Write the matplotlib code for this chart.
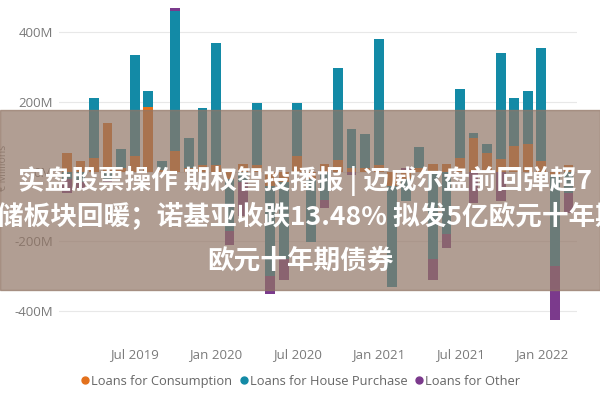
import matplotlib.pyplot as plt
import numpy as np
from matplotlib.lines import Line2D
from matplotlib.patches import Rectangle


# Meses del eje (Feb 2019 .. Mar 2022), uno por barra.
meses = [
    "Feb 2019", "Mar 2019", "Apr 2019", "May 2019", "Jun 2019", "Jul 2019",
    "Aug 2019", "Sep 2019", "Oct 2019", "Nov 2019", "Dec 2019", "Jan 2020",
    "Feb 2020", "Mar 2020", "Apr 2020", "May 2020", "Jun 2020", "Jul 2020",
    "Aug 2020", "Sep 2020", "Oct 2020", "Nov 2020", "Dec 2020", "Jan 2021",
    "Feb 2021", "Mar 2021", "Apr 2021", "May 2021", "Jun 2021", "Jul 2021",
    "Aug 2021", "Sep 2021", "Oct 2021", "Nov 2021", "Dec 2021", "Jan 2022",
    "Feb 2022", "Mar 2022",
]

# Flujos netos en millones (leidos a ojo del grafico).
consumo = [
    54, 31, 40, 140, 10, 46, 186, 5, 60, 10, 20, 20,
    -20, 23, 20, -40, -30, 46, -20, 23, 34, 10, 10, 20,
    -40, -20, 10, 23, 23, 40, 97, 54, 37, 74, 80, 30,
    -10, 20,
]
vivienda = [
    -20, -30, 171, -20, 56, 288, 45, 24, 399, 87, 163, 349,
    -150, -30, 177, -260, -220, 151, -183, -80, 263, 113, 99, 360,
    -290, -63, 61, -250, -180, 197, 14, 26, 303, 137, 151, 324,
    -260, -60,
]
otros = [
    -40, -20, 0, -10, 0, 0, 0, 0, 10, 0, 0, 0,
    -40, -97, 0, -50, -60, 0, 0, -23, 0, -11, 0, 0,
    0, 11, 0, -61, -40, 0, -91, 0, -83, 0, 0, 0,
    -155, -60,
]

etiquetas_x = ["Jul 2019", "Jan 2020", "Jul 2020", "Jan 2021", "Jul 2021", "Jan 2022"]
valores_y = [-400, -200, 0, 200, 400]

series = [
    ("Loans for Consumption", consumo, "#E3711C"),
    ("Loans for House Purchase", vivienda, "#138AA6"),
    ("Loans for Other", otros, "#7B3A8C"),
]

titular = [
    "实盘股票操作 期权智投播报 | 迈威尔盘前回弹超7",
    "储板块回暖；诺基亚收跌13.48% 拟发5亿欧元十年期",
    "欧元十年期债券",
]

plt.rcParams["font.family"] = ["Open Sans", "DejaVu Sans"]

figura = plt.figure(figsize=(6, 4), dpi=100)
eje = figura.add_axes([0.098, 0.161, 0.863, 0.8375])

x = np.arange(len(meses))
base_pos = np.zeros(len(meses))
base_neg = np.zeros(len(meses))
for nombre, valores, color in series:
    v = np.array(valores, dtype=float)
    pos = np.where(v > 0, v, 0)
    neg = np.where(v < 0, v, 0)
    eje.bar(x, pos, 0.72, bottom=base_pos, color=color, zorder=2)
    eje.bar(x, neg, 0.72, bottom=base_neg, color=color, zorder=2)
    base_pos += pos
    base_neg += neg

eje.set_xlim(-0.6, len(meses) - 0.4)
eje.set_ylim(-470, 490)
eje.set_yticks(valores_y)
eje.set_yticklabels([f"{v}M" for v in valores_y])
eje.set_xticks([meses.index(e) for e in etiquetas_x])
eje.set_xticklabels(etiquetas_x)
eje.tick_params(length=0, colors="#7a7a7a", labelsize=9.5)
eje.tick_params(axis="x", pad=9)
eje.tick_params(axis="y", pad=4)
eje.grid(axis="y", color="#e8e8e8", lw=0.8, zorder=0)
for lado in eje.spines.values():
    lado.set_visible(False)
eje.set_ylabel("€ Millions", color="#888888", fontsize=7.5, labelpad=4)

# Leyenda inferior con puntos.
marcas = [Line2D([], [], marker="o", ls="", color=c, markersize=5) for _, _, c in series]
figura.legend(marcas, [n for n, _, _ in series], loc="center", bbox_to_anchor=(0.5, 0.047),
              ncol=3, frameon=False, fontsize=9.3, labelcolor="#666666",
              handletextpad=0.05, columnspacing=0.5, handlelength=0.8)

# Banda superpuesta con el titular.
figura.patches.append(Rectangle((0, 0.275), 1, 0.45, transform=figura.transFigure,
                                color="#917565", alpha=0.7, zorder=5))
fuente = ["Noto Sans CJK SC", "DejaVu Sans"]
figura.text(18 / 600, 1 - 181 / 400, titular[0], color="white", fontsize=19.2, weight="bold",
            family=fuente, ha="left", va="center", zorder=6)
figura.text(-3 / 600, 1 - 216 / 400, titular[1], color="white", fontsize=19.2, weight="bold",
            family=fuente, ha="left", va="center", zorder=6)
figura.text(207 / 600, 1 - 261 / 400, titular[2], color="white", fontsize=19.2, weight="bold",
            family=fuente, ha="left", va="center", zorder=6)

figura.savefig("out.png", dpi=100)
